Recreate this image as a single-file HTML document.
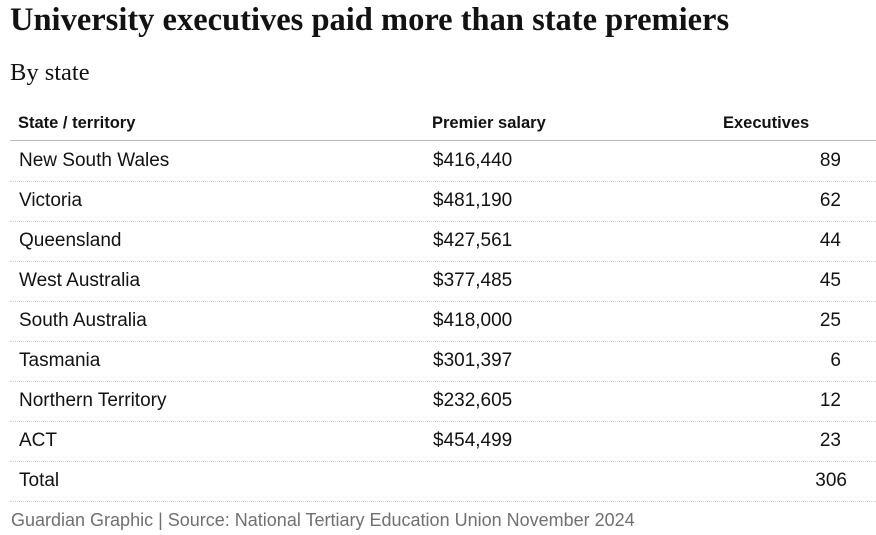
<!DOCTYPE html>
<html><head><meta charset="utf-8">
<style>
body{margin:0;width:876px;height:535px;background:#fff;font-family:"Liberation Sans",sans-serif;color:#121212;position:relative;overflow:hidden}
.title{position:absolute;left:10px;top:2px;font-family:"Liberation Serif",serif;font-weight:bold;font-size:32.5px;white-space:nowrap}
.sub{position:absolute;left:10px;top:59px;font-family:"Liberation Serif",serif;font-size:24.5px}
.hdr{position:absolute;top:114px;font-weight:bold;font-size:16.5px}
.hline{position:absolute;left:10px;width:866px;top:140px;border-top:1px solid #bbb}
.row{position:absolute;left:10px;width:866px;height:40px;border-bottom:1px dotted #ccc;font-size:19px;line-height:39px}
.row span{position:absolute}
.c1{left:9px}.c2{left:423px}.c3{right:35px;text-align:right}
.foot{position:absolute;left:11px;top:510px;font-size:18px;color:#707070;white-space:nowrap}
</style></head><body>
<div class="title">University executives paid more than state premiers</div>
<div class="sub">By state</div>
<div class="hdr" style="left:18px">State / territory</div>
<div class="hdr" style="left:432px">Premier salary</div>
<div class="hdr" style="left:723px">Executives</div>
<div class="hline"></div>
<div id="rows"></div>
<div class="foot">Guardian Graphic | Source: National Tertiary Education Union November 2024</div>
<script>
const states=["New South Wales","Victoria","Queensland","West Australia","South Australia","Tasmania","Northern Territory","ACT","Total"];
const salaries=["$416,440","$481,190","$427,561","$377,485","$418,000","$301,397","$232,605","$454,499",""];
const executives=[89,62,44,45,25,6,12,23,306];
const host=document.getElementById('rows');
states.forEach((s,i)=>{
  const r=document.createElement('div');
  r.className='row';
  r.style.top=(141+i*40)+'px';
  
  
  const a=document.createElement('span');a.className='c1';a.textContent=s;
  
  
  const b=document.createElement('span');b.className='c2';b.textContent=salaries[i];
  
  
  const c=document.createElement('span');c.className='c3';c.textContent=executives[i];
  
  
  if(s==="Total")c.style.right='29px';
  r.append(a,b,c);host.appendChild(r);
});
</script>
</body></html>
